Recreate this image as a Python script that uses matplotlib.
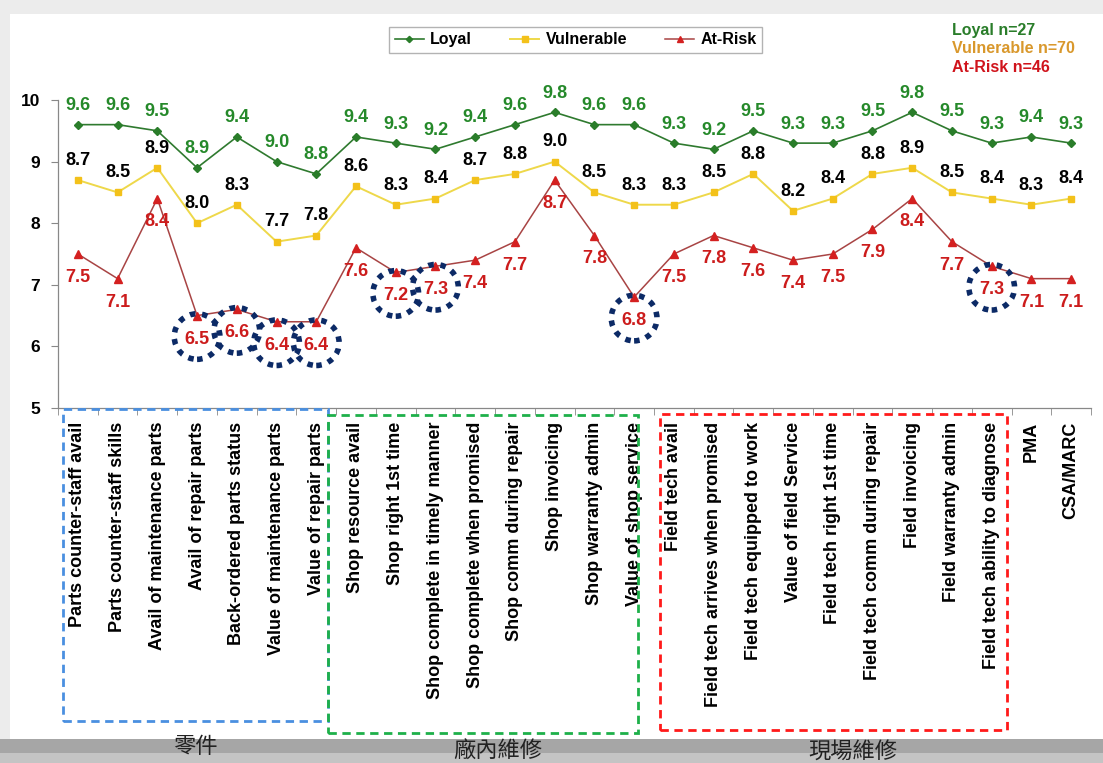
import matplotlib
matplotlib.use("Agg")
import matplotlib.pyplot as plt
import matplotlib.transforms as mtransforms
from matplotlib.patches import Rectangle, Ellipse

plt.rcParams['font.family'] = ['Liberation Sans', 'DejaVu Sans']

categories = [
    "Parts counter-staff avail", "Parts counter-staff skills", "Avail of maintenance parts",
    "Avail of repair parts", "Back-ordered parts status", "Value of maintenance parts",
    "Value of repair parts", "Shop resource avail", "Shop right 1st time",
    "Shop complete in timely manner", "Shop complete when promised", "Shop comm during repair",
    "Shop invoicing", "Shop warranty admin", "Value of shop service", "Field tech avail",
    "Field tech arrives when promised", "Field tech equipped to work", "Value of field Service",
    "Field tech right 1st time", "Field tech comm during repair", "Field invoicing",
    "Field warranty admin", "Field tech ability to diagnose", "PMA", "CSA/MARC",
]
loyal = [9.6, 9.6, 9.5, 8.9, 9.4, 9.0, 8.8, 9.4, 9.3, 9.2, 9.4, 9.6, 9.8,
         9.6, 9.6, 9.3, 9.2, 9.5, 9.3, 9.3, 9.5, 9.8, 9.5, 9.3, 9.4, 9.3]
vulnerable = [8.7, 8.5, 8.9, 8.0, 8.3, 7.7, 7.8, 8.6, 8.3, 8.4, 8.7, 8.8, 9.0,
              8.5, 8.3, 8.3, 8.5, 8.8, 8.2, 8.4, 8.8, 8.9, 8.5, 8.4, 8.3, 8.4]
at_risk = [7.5, 7.1, 8.4, 6.5, 6.6, 6.4, 6.4, 7.6, 7.2, 7.3, 7.4, 7.7, 8.7,
           7.8, 6.8, 7.5, 7.8, 7.6, 7.4, 7.5, 7.9, 8.4, 7.7, 7.3, 7.1, 7.1]
circled = [3, 4, 5, 6, 8, 9, 14, 23]
sample_sizes = [("Loyal n=27", "#2a7d2a"), ("Vulnerable n=70", "#d9982c"), ("At-Risk n=46", "#d0141c")]
groups = [("零件", 0.177, 0.021), ("廠內維修", 0.451, 0.016), ("現場維修", 0.773, 0.016)]

fig = plt.figure(figsize=(11.03, 7.63), dpi=100, facecolor="#ececec")
# slide panel and bottom grey band, kept behind the axes
fig.patches.append(Rectangle((10 / 1103, 24 / 763), 1, (739 - 14) / 763, transform=fig.transFigure,
                             facecolor="white", edgecolor="none", zorder=-2))
fig.patches.append(Rectangle((0, 0), 1, 24 / 763, transform=fig.transFigure,
                             facecolor="#a6a6a6", edgecolor="none", zorder=-2))
fig.patches.append(Rectangle((0, 0), 1, 10 / 763, transform=fig.transFigure,
                             facecolor="#c4c4c4", edgecolor="none", zorder=-2))

ax = fig.add_axes([58 / 1103, 355 / 763, 1033 / 1103, 308 / 763])
ax.set_facecolor("none")
x = list(range(len(categories)))

ax.plot(x, loyal, color="#2f7a2f", lw=1.2, marker="D", ms=4, mfc="#2a7d2a", mec="#2a7d2a", label="Loyal")
ax.plot(x, vulnerable, color="#eed84a", lw=1.4, marker="s", ms=5, mfc="#f3c11a", mec="#f3c11a", label="Vulnerable")
ax.plot(x, at_risk, color="#a84444", lw=1.1, marker="^", ms=5.5, mfc="#d42020", mec="#d42020", label="At-Risk")

for i in x:
    ax.text(i, loyal[i] + 0.31, f"{loyal[i]:.1f}", ha="center", va="center",
            fontsize=13, fontweight="bold", color="#25892a")
    ax.text(i, vulnerable[i] + 0.32, f"{vulnerable[i]:.1f}", ha="center", va="center",
            fontsize=13, fontweight="bold", color="black")
    ax.text(i, at_risk[i] - 0.38, f"{at_risk[i]:.1f}", ha="center", va="center",
            fontsize=13, fontweight="bold", color="#cc1c1c")

for i in circled:
    ax.add_patch(Ellipse((i, at_risk[i] - 0.34), 1.15, 0.74, fill=False, edgecolor="#0c2a66",
                         lw=4, linestyle=(0, (1, 1.2)), zorder=5))

ax.set_xlim(-0.5, len(categories) - 0.5)
ax.set_ylim(5, 10)
ax.set_yticks([5, 6, 7, 8, 9, 10])
ax.set_xticks(x)
ax.set_xticklabels(categories, rotation=90, fontsize=13, fontweight="bold", va="top")
ax.set_xticks([i - 0.5 for i in range(len(categories) + 1)], minor=True)
ax.tick_params(axis="x", which="major", length=0, pad=10)
ax.tick_params(axis="x", which="minor", length=5, color="#888888")
ax.tick_params(axis="y", length=5, color="#888888", pad=8, labelsize=12.5)
for lbl in ax.get_yticklabels():
    lbl.set_fontweight("bold")
for side in ("top", "right"):
    ax.spines[side].set_visible(False)
for side in ("left", "bottom"):
    ax.spines[side].set_color("#888888")
    ax.spines[side].set_linewidth(0.9)

# dashed group boxes under the category labels
trans = mtransforms.blended_transform_factory(ax.transData, ax.transAxes)
boxes = [(-0.37, 6.30, -0.003, -1.016, "#4a8fe0"),
         (6.30, 14.10, -0.023, -1.055, "#1eb04a"),
         (14.65, 23.39, -0.019, -1.045, "#ff1a1a")]
for x0, x1, y0, y1, c in boxes:
    ax.add_patch(Rectangle((x0, y1), x1 - x0, y0 - y1, transform=trans, fill=False,
                           edgecolor=c, lw=2, linestyle=(0, (3, 2)), clip_on=False, zorder=4))

for text, gx, gy in groups:
    fig.text(gx, gy, text, ha="center", va="center", fontsize=16, color="#222222",
             family=["Noto Sans CJK TC", "DejaVu Sans"])

ax.legend(loc="center", bbox_to_anchor=(0.522, 0.9476), bbox_transform=fig.transFigure, ncol=3,
          frameon=True, fancybox=False, edgecolor="#a0a0a0", handlelength=1.8, handletextpad=0.4,
          columnspacing=2.4, borderpad=0.35, markerscale=0.8, prop={"weight": "bold", "size": 11.5})

for k, (text, c) in enumerate(sample_sizes):
    fig.text(952 / 1103, 1 - (30 + 18.7 * k) / 763, text, ha="left", va="center",
             fontsize=11.5, fontweight="bold", color=c)

fig.savefig("out.png", dpi=100, facecolor=fig.get_facecolor())
